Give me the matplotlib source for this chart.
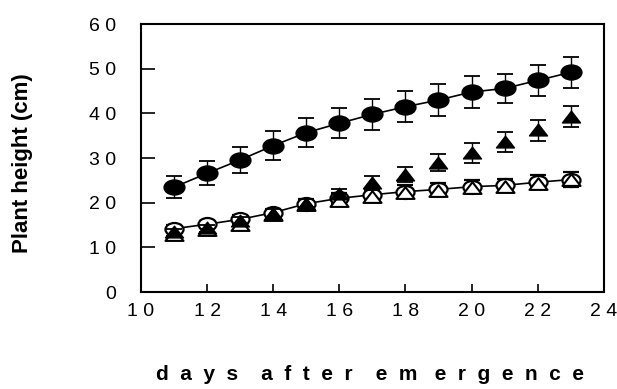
import numpy as np
import matplotlib
matplotlib.use("Agg")
import matplotlib.pyplot as plt
from matplotlib.path import Path
from matplotlib.transforms import Affine2D

# days after emergence
days = [11, 12, 13, 14, 15, 16, 17, 18, 19, 20, 21, 22, 23]

# filled circles (top curve)
filled_circle = [23.5, 26.6, 29.6, 32.8, 35.7, 37.8, 39.8, 41.5, 43.0, 44.8, 45.6, 47.4, 49.2]
filled_circle_err = [2.4, 2.7, 2.9, 3.2, 3.3, 3.35, 3.5, 3.5, 3.5, 3.5, 3.3, 3.4, 3.4]

# filled triangles
filled_tri = [13.4, 14.3, 16.0, 17.6, 19.8, 22.0, 24.5, 26.3, 29.0, 31.2, 33.6, 36.2, 39.3]
filled_tri_err = [0.8, 0.8, 0.9, 1.0, 1.0, 1.2, 1.6, 1.7, 1.9, 2.2, 2.3, 2.4, 2.4]

# open circles (lower curve)
open_circle = [14.2, 15.2, 16.3, 17.8, 19.8, 21.0, 21.8, 22.5, 23.0, 23.6, 23.9, 24.6, 25.2]
open_circle_err = [0.8, 0.8, 0.9, 0.9, 1.0, 1.2, 1.3, 1.4, 1.4, 1.5, 1.5, 1.6, 1.75]

# open triangles
open_tri = [12.8, 13.8, 15.0, 17.2, 19.5, 20.5, 21.3, 22.2, 22.7, 23.3, 23.5, 24.3, 25.0]

xticks = [10, 12, 14, 16, 18, 20, 22, 24]
yticks = [0, 10, 20, 30, 40, 50, 60]

# squashed markers, the scanned figure is stretched sideways
ellipse = Path.unit_circle().transformed(Affine2D().scale(1.0, 0.72))
triangle = Path([(-1, -0.6), (1, -0.6), (0, 0.7), (-1, -0.6)],
                [Path.MOVETO, Path.LINETO, Path.LINETO, Path.CLOSEPOLY])

fig = plt.figure(figsize=(6.17, 3.89), dpi=100)
ax = fig.add_axes([0.2285, 0.249, 0.750, 0.689])

ax.errorbar(days, open_circle, yerr=open_circle_err, fmt='-', color='black',
            lw=1.2, marker=ellipse, ms=13, mfc='white', mec='black', mew=1.6,
            capsize=6, capthick=1.3, elinewidth=1.0, zorder=3)
ax.plot(days, open_tri, ls='none', marker=triangle, ms=13, mfc='white',
        mec='black', mew=1.5, zorder=4)
ax.errorbar(days, filled_tri, yerr=filled_tri_err, fmt='none', ecolor='black',
            capsize=6, capthick=1.3, elinewidth=1.0, zorder=5)
ax.plot(days, filled_tri, ls='none', marker=triangle, ms=13, mfc='black',
        mec='black', zorder=5)
ax.errorbar(days, filled_circle, yerr=filled_circle_err, fmt='-', color='black',
            lw=1.2, marker=ellipse, ms=15, mfc='black', mec='black',
            capsize=6, capthick=1.3, elinewidth=1.0, zorder=6)

ax.set_xlim(10, 24)
ax.set_ylim(0, 60)
ax.set_xticks(xticks)
ax.set_yticks(yticks)
ax.set_xticklabels([' '.join(str(t)) for t in xticks], fontsize=14,
                   family='Liberation Sans')
ax.set_yticklabels([' '.join(str(t)) for t in yticks], fontsize=14,
                   family='Liberation Sans')
ax.tick_params(axis='y', direction='in', length=10, width=1.2, pad=18)
ax.tick_params(axis='x', direction='in', length=6, width=1.2, pad=8)
for s in ax.spines.values():
    s.set_linewidth(1.5)

fig.text(0.60, 0.036, 'd  a  y  s    a  f  t  e  r    e  m   e  r  g  e  n  c  e',
         ha='center', va='center', fontsize=15, fontweight='bold',
         family='Liberation Sans')
fig.text(0.037, 0.58, 'Plant height (cm)', rotation=90, ha='center',
         va='center', fontsize=16, fontweight='bold', family='Liberation Sans')

fig.savefig('out.png', dpi=100)
